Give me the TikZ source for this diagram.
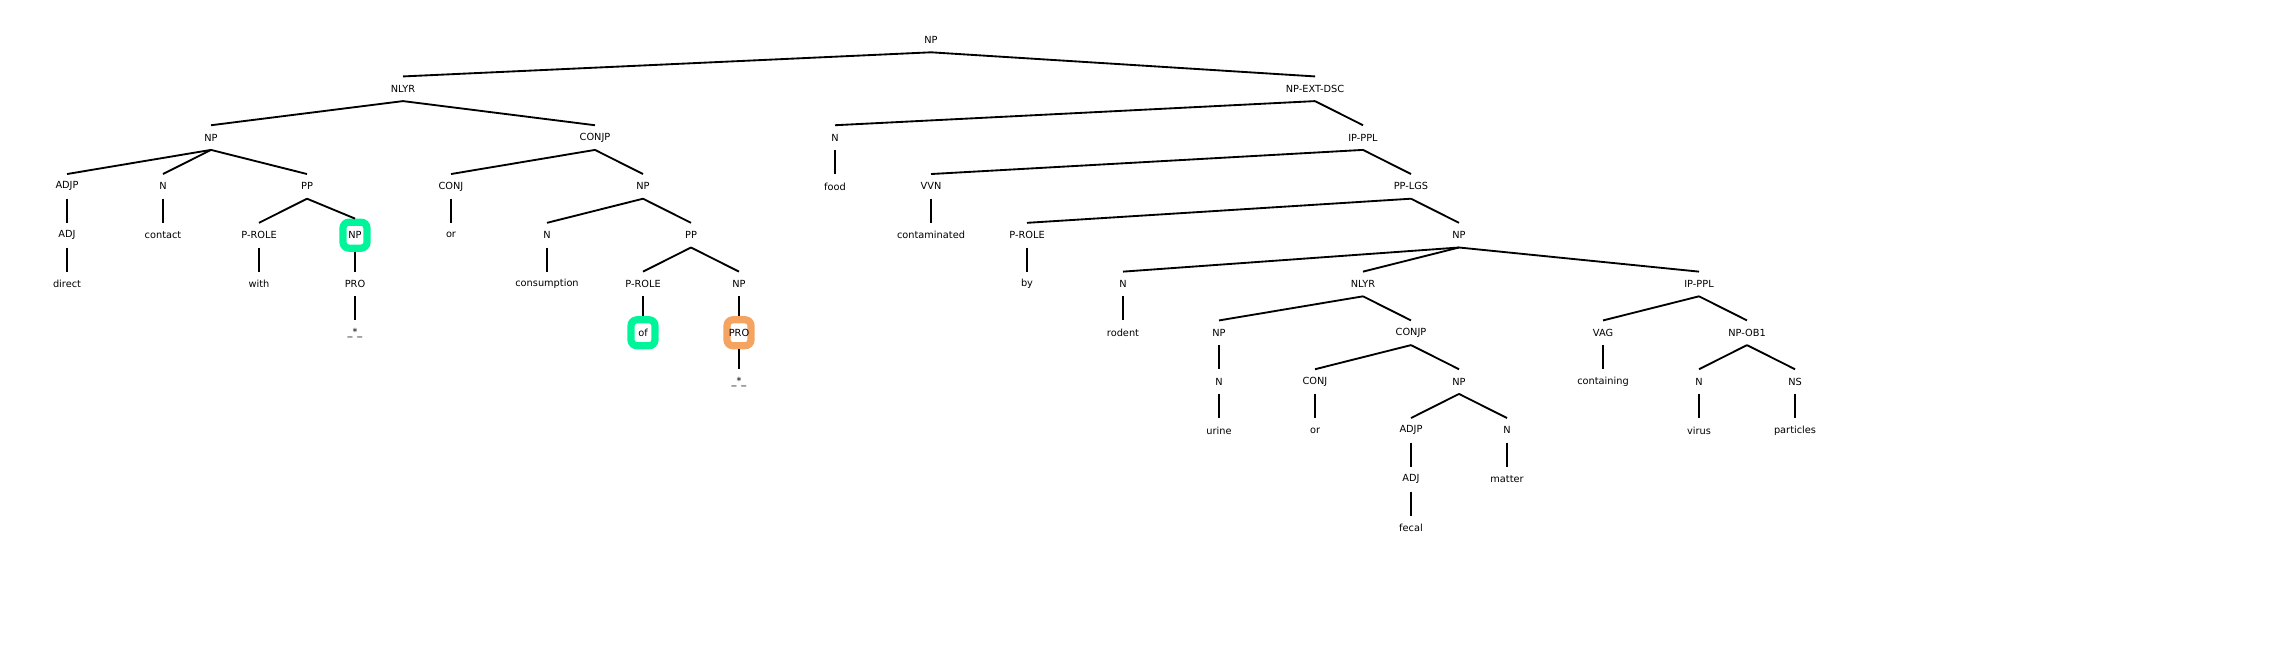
\documentclass[tikz,border=0pt]{standalone}
\usepackage{fontspec}
\setmainfont{DejaVu Sans}
\usepackage{tikz}
\usetikzlibrary{calc}
\definecolor{hlgreen}{HTML}{00F59B}
\definecolor{hlorange}{HTML}{F4A460}
\tikzset{
lbl/.style={inner sep=0pt, minimum height=0.5cm, font=\fontsize{5.8}{7}\selectfont},
hlbox/.style={lbl, draw=#1, fill=white, line width=4.3pt, rounded corners=3.5pt, minimum width=0.5cm, minimum height=0.54cm},
edge/.style={line width=1.1pt}
}

\begin{document}
\begin{tikzpicture}[x=1cm, y=-1.0167cm]
\useasboundingbox (-1.396,-0.819) rectangle (46.104,12.93);
% level 0 and 1
\node[lbl] (root) at (18,0) {NP};
\node[lbl] (nlyrA) at (7,1) {NLYR};
\node[lbl] (npext) at (26,1) {NP-EXT-DSC};
% level 2
\node[lbl] (npA) at (3,2) {NP};
\node[lbl] (conjpA) at (11,2) {CONJP};
\node[lbl] (nfood) at (16,2) {N};
\node[lbl] (ipplA) at (27,2) {IP-PPL};
% level 3
\node[lbl] (adjpA) at (0,3) {ADJP};
\node[lbl] (ncontact) at (2,3) {N};
\node[lbl] (ppA) at (5,3) {PP};
\node[lbl] (conjA) at (8,3) {CONJ};
\node[lbl] (npB) at (12,3) {NP};
\node[lbl] (wfood) at (16,3) {food};
\node[lbl] (vvn) at (18,3) {VVN};
\node[lbl] (pplgs) at (28,3) {PP-LGS};
% level 4
\node[lbl] (adjA) at (0,4) {ADJ};
\node[lbl] (wcontact) at (2,4) {contact};
\node[lbl] (proleA) at (4,4) {P-ROLE};
\node[hlbox=hlgreen] (npC) at (6,4) {NP};
\node[lbl] (worA) at (8,4) {or};
\node[lbl] (ncons) at (10,4) {N};
\node[lbl] (ppB) at (13,4) {PP};
\node[lbl] (wcontam) at (18,4) {contaminated};
\node[lbl] (proleB) at (20,4) {P-ROLE};
\node[lbl] (npD) at (29,4) {NP};
% level 5
\node[lbl] (wdirect) at (0,5) {direct};
\node[lbl] (wwith) at (4,5) {with};
\node[lbl] (proA) at (6,5) {PRO};
\node[lbl] (wcons) at (10,5) {consumption};
\node[lbl] (proleC) at (12,5) {P-ROLE};
\node[lbl] (npE) at (14,5) {NP};
\node[lbl] (wby) at (20,5) {by};
\node[lbl] (nrodent) at (22,5) {N};
\node[lbl] (nlyrB) at (27,5) {NLYR};
\node[lbl] (ipplB) at (34,5) {IP-PPL};
% level 6
\node[lbl] (traceA) at (6,6) {\_*\_};
\node[hlbox=hlgreen] (wof) at (12,6) {of};
\node[hlbox=hlorange] (proB) at (14,6) {PRO};
\node[lbl] (wrodent) at (22,6) {rodent};
\node[lbl] (npF) at (24,6) {NP};
\node[lbl] (conjpB) at (28,6) {CONJP};
\node[lbl] (vag) at (32,6) {VAG};
\node[lbl] (npob) at (35,6) {NP-OB1};
% level 7
\node[lbl] (traceB) at (14,7) {\_*\_};
\node[lbl] (nurine) at (24,7) {N};
\node[lbl] (conjB) at (26,7) {CONJ};
\node[lbl] (npG) at (29,7) {NP};
\node[lbl] (wcontaining) at (32,7) {containing};
\node[lbl] (nvirus) at (34,7) {N};
\node[lbl] (ns) at (36,7) {NS};
% level 8 to 10
\node[lbl] (wurine) at (24,8) {urine};
\node[lbl] (worB) at (26,8) {or};
\node[lbl] (adjpB) at (28,8) {ADJP};
\node[lbl] (nmatter) at (30,8) {N};
\node[lbl] (wvirus) at (34,8) {virus};
\node[lbl] (wparticles) at (36,8) {particles};
\node[lbl] (adjB) at (28,9) {ADJ};
\node[lbl] (wmatter) at (30,9) {matter};
\node[lbl] (wfecal) at (28,10) {fecal};
% edges
\foreach \p/\c in {root/nlyrA, root/npext, nlyrA/npA, nlyrA/conjpA, npext/nfood, npext/ipplA,
  npA/adjpA, npA/ncontact, npA/ppA, conjpA/conjA, conjpA/npB, nfood/wfood, ipplA/vvn, ipplA/pplgs,
  adjpA/adjA, ncontact/wcontact, ppA/proleA, ppA/npC, conjA/worA, npB/ncons, npB/ppB,
  vvn/wcontam, pplgs/proleB, pplgs/npD, adjA/wdirect, proleA/wwith, npC/proA, ncons/wcons,
  ppB/proleC, ppB/npE, proleB/wby, npD/nrodent, npD/nlyrB, npD/ipplB, proA/traceA,
  proleC/wof, npE/proB, nrodent/wrodent, nlyrB/npF, nlyrB/conjpB, ipplB/vag, ipplB/npob,
  proB/traceB, npF/nurine, conjpB/conjB, conjpB/npG, vag/wcontaining, npob/nvirus, npob/ns,
  nurine/wurine, conjB/worB, npG/adjpB, npG/nmatter, nvirus/wvirus, ns/wparticles,
  adjpB/adjB, nmatter/wmatter, adjB/wfecal}
  \draw[edge] (\p.south) -- (\c.north);
\end{tikzpicture}
\end{document}
